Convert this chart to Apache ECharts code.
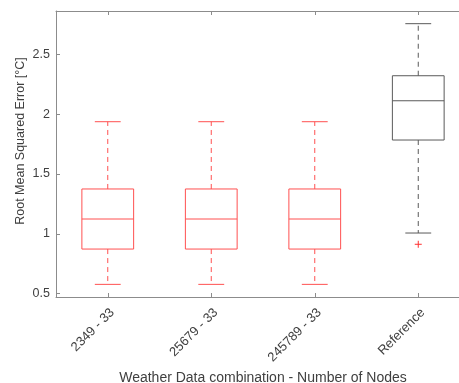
<!DOCTYPE html>
<html>
<head>
<meta charset="utf-8">
<script src="https://cdn.jsdelivr.net/npm/echarts@6/dist/echarts.min.js"></script>
<style>
  html, body { margin: 0; padding: 0; background: #fff; overflow: hidden; }
  #chart { width: 470px; height: 383px; }
</style>
</head>
<body>
<div id="chart"></div>
<script>
const categories = ["2349 - 33", "25679 - 33", "245789 - 33", "Reference"];
const whiskerLow = [0.578, 0.578, 0.578, 1.007];
const q1 = [0.873, 0.873, 0.873, 1.784];
const median = [1.124, 1.124, 1.124, 2.112];
const q3 = [1.375, 1.375, 1.375, 2.321];
const whiskerHigh = [1.937, 1.937, 1.937, 2.756];
const outlierCategory = ["Reference"];
const outlierValue = [0.913];
const yTicks = [0.5, 1, 1.5, 2, 2.5];

const boxColors = ["#ff5050", "#ff5050", "#ff5050", "#5a5a5a"];
const axisColor = "#8c8c8c";
const textColor = "#404040";
const font = "'Liberation Sans', Arial, sans-serif";

const boxData = categories.map((c, i) => [i, whiskerLow[i], q1[i], median[i], q3[i], whiskerHigh[i]]);
const outlierData = outlierCategory.map((c, i) => [categories.indexOf(c), outlierValue[i]]);

const renderBox = (params, api) => {
  const idx = api.value(0);
  const band = api.size([1, 0])[0];
  const half = band * 0.25;
  const cap = band * 0.125;
  const pLow = api.coord([idx, api.value(1)]);
  const pQ1 = api.coord([idx, api.value(2)]);
  const pMed = api.coord([idx, api.value(3)]);
  const pQ3 = api.coord([idx, api.value(4)]);
  const pHigh = api.coord([idx, api.value(5)]);
  const x = pQ1[0];
  const color = boxColors[idx];
  const solid = { stroke: color, lineWidth: 1, fill: null };
  const dashed = { stroke: color, lineWidth: 1, lineDash: [5, 4] };
  return {
    type: "group",
    children: [
      { type: "rect", shape: { x: x - half, y: pQ3[1], width: half * 2, height: pQ1[1] - pQ3[1] }, style: solid },
      { type: "line", shape: { x1: x - half, y1: pMed[1], x2: x + half, y2: pMed[1] }, style: solid },
      { type: "line", shape: { x1: x, y1: pQ3[1], x2: x, y2: pHigh[1] }, style: dashed },
      { type: "line", shape: { x1: x, y1: pQ1[1], x2: x, y2: pLow[1] }, style: dashed },
      { type: "line", shape: { x1: x - cap, y1: pHigh[1], x2: x + cap, y2: pHigh[1] }, style: solid },
      { type: "line", shape: { x1: x - cap, y1: pLow[1], x2: x + cap, y2: pLow[1] }, style: solid },
    ],
  };
};

const renderOutlier = (params, api) => {
  const p = api.coord([api.value(0), api.value(1)]);
  const s = 3.5;
  const style = { stroke: "#ff3030", lineWidth: 1 };
  return {
    type: "group",
    children: [
      { type: "line", shape: { x1: p[0] - s, y1: p[1], x2: p[0] + s, y2: p[1] }, style },
      { type: "line", shape: { x1: p[0], y1: p[1] - s, x2: p[0], y2: p[1] + s }, style },
    ],
  };
};

const chart = echarts.init(document.getElementById("chart"));
chart.setOption({
  animation: false,
  textStyle: { fontFamily: font },
  grid: { left: 56, top: 11, right: 0, bottom: 86, containLabel: false, outerBoundsMode: "none" },
  xAxis: [
    {
      type: "category",
      data: categories,
      boundaryGap: true,
      position: "bottom",
      name: "Weather Data combination - Number of Nodes",
      nameLocation: "middle",
      nameGap: 71,
      nameTextStyle: { color: textColor, fontSize: 14, fontFamily: font },
      axisLine: { show: true, lineStyle: { color: axisColor, width: 1 } },
      axisTick: { show: true, alignWithLabel: true, inside: true, length: 4, lineStyle: { color: axisColor } },
      axisLabel: { rotate: 45, color: textColor, fontSize: 13, margin: 9, verticalAlign: "top", fontFamily: font },
      splitLine: { show: false },
    },
    {
      type: "category",
      data: categories,
      boundaryGap: true,
      position: "top",
      axisLine: { show: true, lineStyle: { color: axisColor, width: 1 } },
      axisTick: { show: true, alignWithLabel: true, inside: true, length: 4, lineStyle: { color: axisColor } },
      axisLabel: { show: false },
      splitLine: { show: false },
    },
  ],
  yAxis: {
    type: "value",
    min: 0.4724,
    max: 2.862,
    name: "Root Mean Squared Error [°C]",
    nameLocation: "middle",
    nameGap: 29,
    nameMoveOverlap: false,
    nameTextStyle: { color: textColor, fontSize: 12.5, fontFamily: font, padding: [0, 0, 0, 26] },
    axisLine: { show: true, lineStyle: { color: axisColor, width: 1 } },
    axisTick: { show: true, inside: true, length: 4, customValues: yTicks, lineStyle: { color: axisColor } },
    axisLabel: { color: textColor, fontSize: 12.5, margin: 6, customValues: yTicks, fontFamily: font },
    splitLine: { show: false },
  },
  series: [
    {
      type: "custom",
      renderItem: renderBox,
      data: boxData,
      encode: { x: 0, y: [1, 2, 3, 4, 5] },
      clip: false,
    },
    {
      type: "custom",
      renderItem: renderOutlier,
      data: outlierData,
      encode: { x: 0, y: 1 },
    },
  ],
});
</script>
</body>
</html>
